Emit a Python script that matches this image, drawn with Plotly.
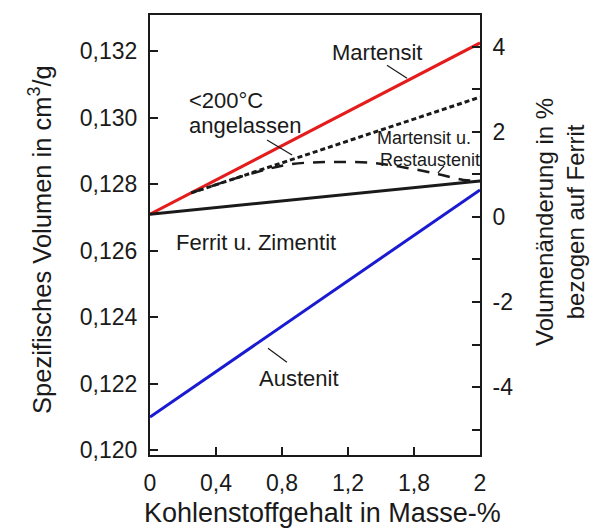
import plotly.graph_objects as go

# ---- data ----
carbon = [0.0, 2.0]
martensit = [0.1271, 0.13225]
ferrit_zementit = [0.1271, 0.1281]
austenit = [0.1210, 0.12783]

angelassen_x = [0.25, 2.0]
angelassen_y = [0.12774, 0.13062]

restaustenit_x = [0.25, 0.6, 0.85, 1.1, 1.35, 1.55, 1.75, 1.9, 2.0]
restaustenit_y = [0.12774, 0.1283, 0.1286, 0.12867, 0.12864, 0.1285, 0.1283, 0.12813, 0.1281]

x_tickvals = [0, 0.4, 0.8, 1.2, 1.6, 2.0]
x_ticktext = ["0", "0,4", "0,8", "1,2", "1,8", "2"]
y_tickvals = [0.120, 0.122, 0.124, 0.126, 0.128, 0.130, 0.132]
y_ticktext = ["0,120", "0,122", "0,124", "0,126", "0,128", "0,130", "0,132"]
y2_tickvals = [-4, -2, 0, 2, 4]
y2_ticktext = ["-4", "-2", "0", "2", "4"]

FONT = "Liberation Sans, Arial, sans-serif"
INK = "#1a1a1a"
RED = "#e41c1c"
BLUE = "#1a1ad2"

fig = go.Figure()
fig.add_trace(go.Scatter(x=carbon, y=martensit, mode="lines",
                         line=dict(color=RED, width=3), hoverinfo="skip"))
fig.add_trace(go.Scatter(x=angelassen_x, y=angelassen_y, mode="lines",
                         line=dict(color=INK, width=3, dash="5px,3px"), hoverinfo="skip"))
fig.add_trace(go.Scatter(x=restaustenit_x, y=restaustenit_y, mode="lines",
                         line=dict(color=INK, width=2.5, dash="12px,9px", shape="spline"),
                         hoverinfo="skip"))
fig.add_trace(go.Scatter(x=carbon, y=ferrit_zementit, mode="lines",
                         line=dict(color=INK, width=3), hoverinfo="skip"))
fig.add_trace(go.Scatter(x=carbon, y=austenit, mode="lines",
                         line=dict(color=BLUE, width=3), hoverinfo="skip"))
# invisible helper so the right axis is rendered
fig.add_trace(go.Scatter(x=[0], y=[0], yaxis="y2", mode="markers",
                         marker=dict(opacity=0), hoverinfo="skip"))

# leader lines
leaders = [
    (1.436, 0.13158, 1.558, 0.13119),
    (0.709, 0.12933, 0.861, 0.12888),
    (1.782, 0.12855, 1.745, 0.12834),
    (0.715, 0.12307, 0.830, 0.12265),
]
for x0, y0, x1, y1 in leaders:
    fig.add_shape(type="line", xref="x", yref="y", x0=x0, y0=y0, x1=x1, y1=y1,
                  line=dict(color=INK, width=1.2))

def label(text, x, y, size=22, xanchor="center"):
    fig.add_annotation(text=text, x=x, y=y, xref="x", yref="y", showarrow=False,
                       xanchor=xanchor, yanchor="middle",
                       font=dict(family=FONT, size=size, color=INK))

label("Martensit", 1.376, 0.13195)
label("<200°C", 0.224, 0.13053, xanchor="left")
label("angelassen", 0.224, 0.12978, xanchor="left")
label("Martensit u.", 1.661, 0.12939, size=18)
label("Restaustenit", 1.697, 0.12873, size=18)
label("Ferrit u. Zimentit", 0.642, 0.12626)
label("Austenit", 0.903, 0.12217)

# axis titles
def title(text, x, y, size, angle=0):
    fig.add_annotation(text=text, xref="paper", yref="paper", x=x, y=y,
                       xanchor="center", yanchor="middle", textangle=angle,
                       showarrow=False, font=dict(family=FONT, size=size, color=INK))

title("Spezifisches Volumen in cm<sup>3</sup>/g", -0.333, 0.489, 25.5, -90)
title("Volumenänderung in %<br>bezogen auf Ferrit", 1.2424, 0.5295, 24, -90)
title("Kohlenstoffgehalt in Masse-%", 0.524, -0.1318, 27)

axis_common = dict(showline=True, linecolor=INK, linewidth=2, ticks="inside",
                   ticklen=8, tickwidth=1.5, tickcolor=INK, showgrid=False, zeroline=False,
                   tickfont=dict(family=FONT, size=23, color=INK))

fig.update_layout(
    width=598, height=529,
    margin=dict(l=150, r=118, t=15, b=74),
    paper_bgcolor="white", plot_bgcolor="white",
    showlegend=False,
    xaxis=dict(range=[0, 2], tickvals=x_tickvals, ticktext=x_ticktext, mirror=True,
               ticklabelstandoff=6, **axis_common),
    yaxis=dict(range=[0.11986, 0.13309], tickvals=y_tickvals, ticktext=y_ticktext,
               ticklabelstandoff=6, **axis_common),
    yaxis2=dict(range=[-5.59, 4.74], tickvals=y2_tickvals, ticktext=y2_ticktext,
                overlaying="y", side="right", ticklabelstandoff=6,
                minor=dict(tickmode="linear", tick0=0, dtick=1, ticks="inside",
                           ticklen=8, tickwidth=1.5, tickcolor=INK),
                **axis_common),
)

fig.write_html("out.html")
